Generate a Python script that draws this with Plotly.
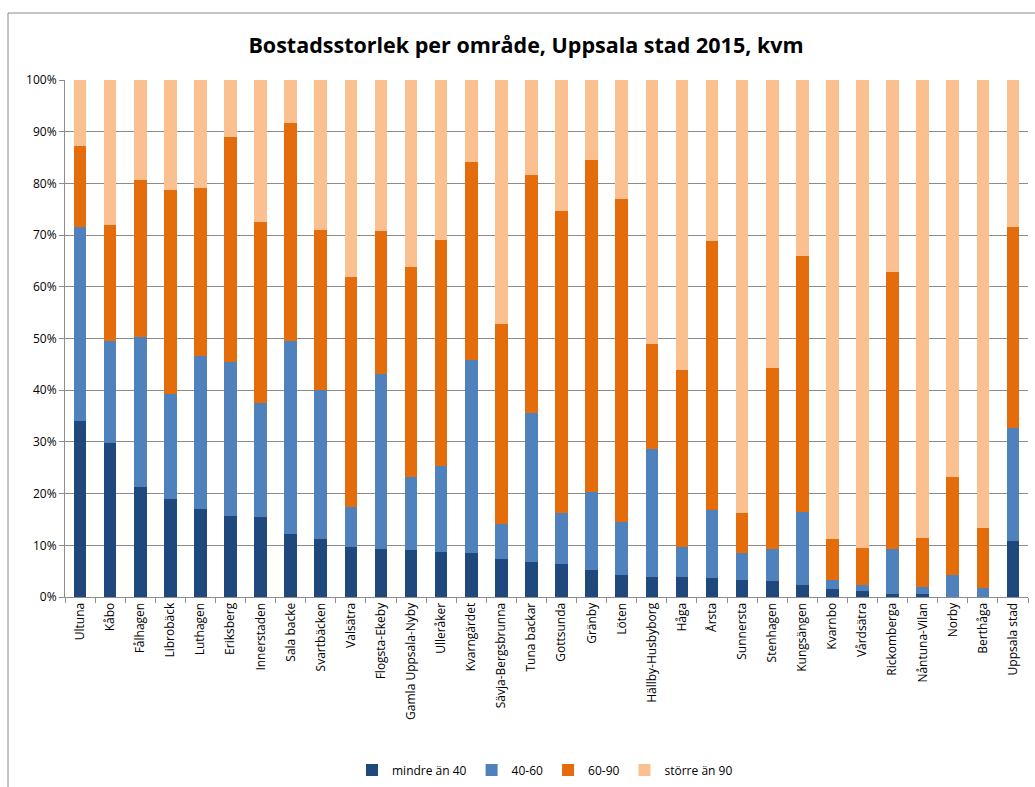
import plotly.graph_objects as go

categories = ["Ultuna", "Kåbo", "Fålhagen", "Librobäck", "Luthagen", "Eriksberg", "Innerstaden",
              "Sala backe", "Svartbäcken", "Valsätra", "Flogsta-Ekeby", "Gamla Uppsala-Nyby",
              "Ulleråker", "Kvarngärdet", "Sävja-Bergsbrunna", "Tuna backar", "Gottsunda", "Gränby",
              "Löten", "Hällby-Husbyborg", "Håga", "Årsta", "Sunnersta", "Stenhagen", "Kungsängen",
              "Kvarnbo", "Vårdsätra", "Rickomberga", "Nåntuna-Vilan", "Norby", "Berthåga", "Uppsala stad"]

# cumulative tops (percent)
cum_lt40 = [34.0, 29.8, 21.3, 19.0, 17.1, 15.7, 15.5, 12.1, 11.3, 9.6, 9.3, 9.0, 8.8, 8.5, 7.4, 6.8,
            6.4, 5.2, 4.3, 3.9, 3.9, 3.7, 3.3, 3.1, 2.3, 1.6, 1.2, 0.5, 0.5, 0.0, 0.0, 10.9]
cum_40_60 = [71.6, 49.5, 50.3, 39.2, 46.7, 45.5, 37.5, 49.5, 40.1, 17.4, 43.2, 23.2, 25.4, 45.9, 14.1, 35.6,
             16.2, 20.4, 14.5, 28.6, 9.6, 16.8, 8.5, 9.2, 16.4, 3.3, 2.3, 9.3, 2.0, 4.3, 1.7, 32.7]
cum_60_90 = [87.3, 71.9, 80.6, 78.8, 79.1, 88.9, 72.6, 91.7, 71.0, 61.9, 70.8, 63.8, 69.0, 84.2, 52.9, 81.7,
             74.6, 84.5, 77.0, 48.9, 43.9, 68.8, 16.3, 44.3, 66.0, 11.2, 9.5, 62.9, 11.5, 23.2, 13.4, 71.6]

mindre_an_40 = cum_lt40
s40_60 = [round(b - a, 1) for a, b in zip(cum_lt40, cum_40_60)]
s60_90 = [round(c - b, 1) for b, c in zip(cum_40_60, cum_60_90)]
storre_an_90 = [round(100 - c, 1) for c in cum_60_90]

series = [
    ("mindre än 40", mindre_an_40, "#1F497D"),
    ("40-60", s40_60, "#4F81BD"),
    ("60-90", s60_90, "#E46C0A"),
    ("större än 90", storre_an_90, "#FAC090"),
]

FONT = "Open Sans, Liberation Sans, Arial, sans-serif"

fig = go.Figure()
for name, vals, col in series:
    fig.add_trace(go.Bar(x=categories, y=[v / 100 for v in vals], name=name,
                         marker=dict(color=col, line=dict(width=0))))

W, H = 1035, 787
L, R, T, B = 65, 7, 80, 190
pw, ph = W - L - R, H - T - B

def px(x):
    return (x - L) / pw

def py(y):
    return (H - B - y) / ph

fig.update_layout(
    width=W, height=H,
    barmode="stack", bargap=0.58,
    margin=dict(l=L, r=R, t=T, b=B, autoexpand=False),
    paper_bgcolor="white", plot_bgcolor="white",
    font=dict(family=FONT, size=12, color="black"),
    title=dict(text="<b>Bostadsstorlek per område, Uppsala stad 2015, kvm</b>",
               x=(526 / W), xref="container", xanchor="center", y=1 - 45 / H, yref="container",
               yanchor="middle", automargin=False,
               font=dict(family=FONT, size=21.5, color="black")),
    legend=dict(orientation="h", x=px(545), xanchor="center", y=py(770), yanchor="middle",
                font=dict(family=FONT, size=12), traceorder="normal", itemwidth=30,
                bgcolor="rgba(0,0,0,0)"),
    shapes=[dict(type="rect", xref="paper", yref="paper", x0=px(8), x1=px(1045), y0=py(800), y1=py(13),
                 line=dict(color="#8c8c8c", width=1), layer="below")],
)
fig.update_xaxes(type="category", showline=True, linecolor="#8c8c8c", linewidth=1,
                 ticks="outside", tickson="boundaries", ticklen=5, tickcolor="#8c8c8c",
                 tickangle=-90, tickfont=dict(family=FONT, size=12), showgrid=False, automargin=False)
fig.update_yaxes(range=[0, 1], tickformat=".0%", dtick=0.1, showline=True, linecolor="#8c8c8c",
                 showgrid=True, gridcolor="#8c8c8c", gridwidth=1, ticks="outside", ticklen=5,
                 tickcolor="#8c8c8c", tickfont=dict(family=FONT, size=12), zeroline=False,
                 automargin=False)

fig.write_html("out.html", config={"displayModeBar": False},
               post_script="document.body.style.margin='0';document.body.style.overflow='hidden';")
